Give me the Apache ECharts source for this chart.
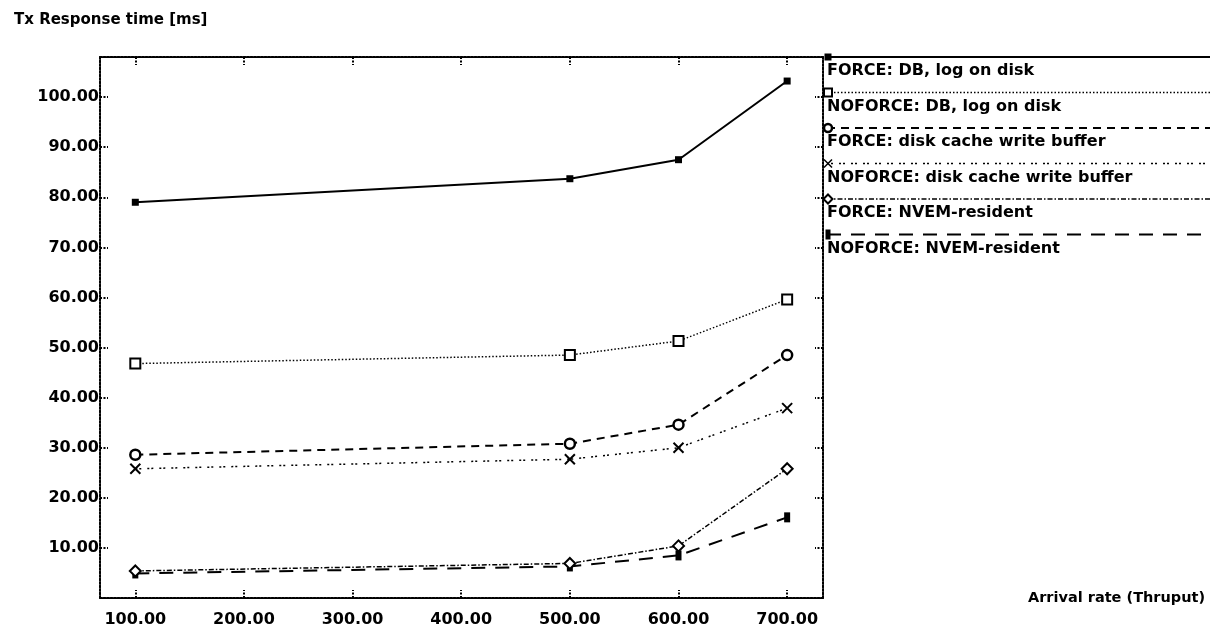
<!DOCTYPE html>
<html>
<head>
<meta charset="utf-8">
<script src="https://cdn.jsdelivr.net/npm/echarts@6/dist/echarts.min.js"></script>
<style>
  html, body { margin: 0; padding: 0; background: #fff; }
  #chart { width: 1213px; height: 630px; }
</style>
</head>
<body>
<div id="chart"></div>
<script>
// Arrival rate (x) and measured response time in ms for each configuration
const arrivalRates = [100, 500, 600, 700];
const forceDb      = [79.0, 83.7, 87.5, 103.2];
const noforceDb    = [46.8, 48.5, 51.3, 59.6];
const forceCache   = [28.6, 30.8, 34.6, 48.5];
const noforceCache = [25.8, 27.7, 30.0, 37.9];
const forceNvem    = [5.4, 6.9, 10.4, 25.8];
const noforceNvem  = [4.9, 6.3, 8.5, 16.1];

const seriesNames = [
  'FORCE: DB, log on disk',
  'NOFORCE: DB, log on disk',
  'FORCE: disk cache write buffer',
  'NOFORCE: disk cache write buffer',
  'FORCE: NVEM-resident',
  'NOFORCE: NVEM-resident'
];
const seriesValues = [forceDb, noforceDb, forceCache, noforceCache, forceNvem, noforceNvem];

const xTickValues = [100, 200, 300, 400, 500, 600, 700];
const yTickValues = [10, 20, 30, 40, 50, 60, 70, 80, 90, 100];

const FONT = '"DejaVu Sans", Verdana, sans-serif';
const INK = '#000';

// per-series drawing style
const styles = [
  { dash: 'solid',          width: 2,   marker: 'filledSquare' },
  { dash: [1.5, 2],         width: 1.5, marker: 'openSquare' },
  { dash: [8, 6],           width: 2,   marker: 'circle' },
  { dash: [2, 2, 2, 6],     width: 1.5, marker: 'cross' },
  { dash: [5, 2, 1.5, 2],   width: 1.5, marker: 'diamond' },
  { dash: [14, 10],         width: 2,   marker: 'bar' }
];

const CROSS_PATH = 'path://M0,0L10,10M10,0L0,10';

function seriesSymbol(kind) {
  switch (kind) {
    case 'filledSquare': return { symbol: 'rect', symbolSize: 7, itemStyle: { color: INK } };
    case 'openSquare':   return { symbol: 'rect', symbolSize: 10, itemStyle: { color: '#fff', borderColor: INK, borderWidth: 2 } };
    case 'circle':       return { symbol: 'circle', symbolSize: 10, itemStyle: { color: '#fff', borderColor: INK, borderWidth: 2.5 } };
    case 'cross':        return { symbol: CROSS_PATH, symbolSize: 10, itemStyle: { color: 'none', borderColor: INK, borderWidth: 2 } };
    case 'diamond':      return { symbol: 'diamond', symbolSize: 11, itemStyle: { color: '#fff', borderColor: INK, borderWidth: 2 } };
    case 'bar':          return { symbol: 'rect', symbolSize: [6, 10], itemStyle: { color: INK } };
  }
}

const series = seriesNames.map((name, i) => Object.assign({
  name: name,
  type: 'line',
  xAxisIndex: 0,
  yAxisIndex: 0,
  data: arrivalRates.map((x, k) => [x, seriesValues[i][k]]),
  showAllSymbol: true,
  lineStyle: { color: INK, width: styles[i].width, type: styles[i].dash },
  emphasis: { disabled: true },
  z: 10 - i
}, seriesSymbol(styles[i].marker)));

// legend block to the right of the plot frame: line with marker on top, label beneath
const LEG_X0 = 827, LEG_X1 = 1210, LEG_TOP = 57, LEG_STEP = 35.5;

function legendMarker(kind, x, y) {
  const s = { stroke: INK, lineWidth: 2, fill: '#fff' };
  switch (kind) {
    case 'filledSquare': return { type: 'rect', shape: { x: x - 3.5, y: y - 3.5, width: 7, height: 7 }, style: { fill: INK } };
    case 'openSquare':   return { type: 'rect', shape: { x: x - 4, y: y - 4, width: 8, height: 8 }, style: s };
    case 'circle':       return { type: 'circle', shape: { cx: x, cy: y, r: 4 }, style: { stroke: INK, lineWidth: 2.5, fill: '#fff' } };
    case 'cross':        return { type: 'polyline', shape: { points: [[x - 4, y - 4], [x + 4, y + 4], [x, y], [x - 4, y + 4], [x + 4, y - 4]] }, style: { stroke: INK, lineWidth: 1.5, fill: null } };
    case 'diamond':      return { type: 'polygon', shape: { points: [[x, y - 4.5], [x + 4.5, y], [x, y + 4.5], [x - 4.5, y]] }, style: s };
    case 'bar':          return { type: 'rect', shape: { x: x - 2.5, y: y - 5, width: 5, height: 10 }, style: { fill: INK } };
  }
}

const legendGraphics = [];
seriesNames.forEach((name, i) => {
  const y = LEG_TOP + i * LEG_STEP;
  const st = styles[i];
  legendGraphics.push({
    type: 'line',
    shape: { x1: LEG_X0, y1: y, x2: LEG_X1, y2: y },
    style: { stroke: INK, lineWidth: st.width, lineDash: st.dash === 'solid' ? null : st.dash }
  });
  legendGraphics.push(legendMarker(st.marker, LEG_X0 + 1, y));
  legendGraphics.push({
    type: 'text',
    x: LEG_X0, y: y + 6,
    style: { text: name, font: 'bold 16px ' + FONT, fill: INK, textVerticalAlign: 'top' }
  });
});

const dotted = { color: INK, width: 2, type: [2, 1.5] };

function xAxisCfg(pos, withLabels) {
  return {
    type: 'value',
    position: pos,
    min: 67.5,
    max: 733,
    axisLine: { show: true, onZero: false, lineStyle: dotted },
    axisTick: { show: true, inside: true, length: 8, customValues: xTickValues, lineStyle: dotted },
    axisLabel: {
      show: withLabels,
      customValues: xTickValues,
      formatter: v => v.toFixed(2),
      color: INK, fontFamily: FONT, fontWeight: 'bold', fontSize: 16, margin: 14
    },
    splitLine: { show: false }
  };
}
function yAxisCfg(pos, withLabels) {
  return {
    type: 'value',
    position: pos,
    min: 0,
    max: 108,
    axisLine: { show: true, onZero: false, lineStyle: dotted },
    axisTick: { show: true, inside: true, length: 8, customValues: yTickValues, lineStyle: dotted },
    axisLabel: {
      show: withLabels,
      customValues: yTickValues,
      formatter: v => v.toFixed(2),
      color: INK, fontFamily: FONT, fontWeight: 'bold', fontSize: 16, margin: 1
    },
    splitLine: { show: false }
  };
}

const xBottom = Object.assign(xAxisCfg('bottom', true), {
  name: 'Arrival rate (Thruput)',
  nameLocation: 'end',
  nameGap: 205,
  nameTextStyle: { color: INK, fontFamily: FONT, fontWeight: 'bold', fontSize: 14.5 }
});

const chart = echarts.init(document.getElementById('chart'), null, { renderer: 'canvas' });
chart.setOption({
  animation: false,
  backgroundColor: '#fff',
  title: {
    text: 'Tx Response time [ms]',
    left: 9, top: 8,
    textStyle: { color: INK, fontFamily: FONT, fontWeight: 'bold', fontSize: 15 }
  },
  grid: { left: 100, right: 390, top: 57, bottom: 32, containLabel: false, outerBoundsMode: 'none' },
  xAxis: [xBottom, xAxisCfg('top', false)],
  yAxis: [yAxisCfg('left', true), yAxisCfg('right', false)],
  series: series,
  graphic: legendGraphics
});
</script>
</body>
</html>
